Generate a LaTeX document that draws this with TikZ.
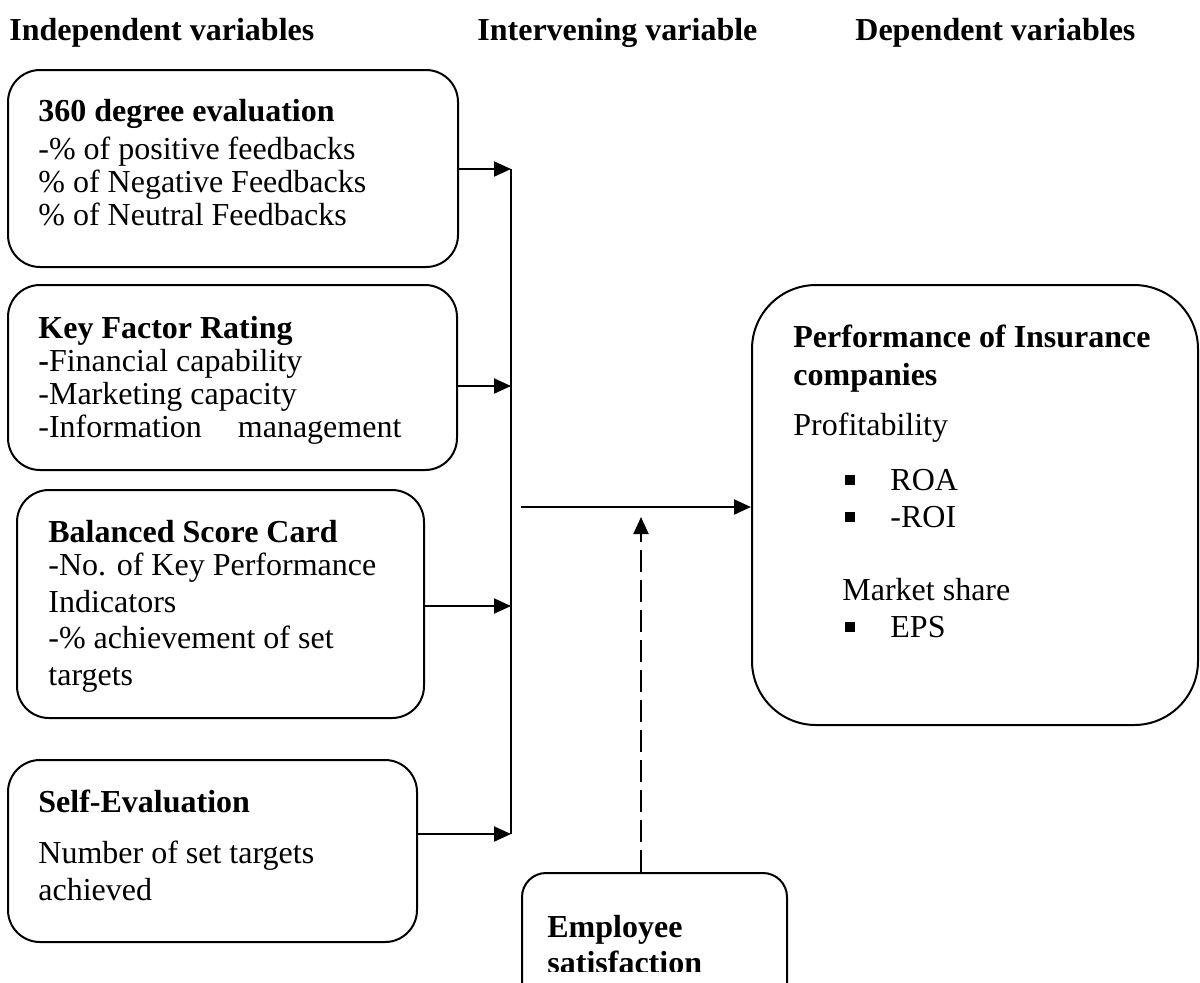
\documentclass[tikz,border=0pt]{standalone}
\usepackage{fontspec}
\setmainfont{Liberation Serif}
\usetikzlibrary{arrows.meta,positioning,calc}
\newcommand{\sqbul}{\rule[2.5pt]{5pt}{5pt}}
\tikzset{
  varbox/.style={draw, line width=1pt, rounded corners=16pt, inner sep=0pt},
  vartext/.style={anchor=base west, align=left, inner sep=0pt,
    font=\fontsize{16}{16.5}\selectfont},
  headtext/.style={anchor=base west, inner sep=0pt,
    font=\fontsize{16}{16.5}\selectfont\bfseries},
  feed/.style={-{Triangle[length=8.5pt,width=7.5pt]}, line width=1pt},
  moderate/.style={feed, dash pattern=on 11pt off 4pt},
}
\begin{document}
\begin{tikzpicture}[x=0.5pt,y=-0.5pt]
  \useasboundingbox (0,0) rectangle (1200,982);
  \clip (0,0) rectangle (1200,982);
  % column heads
  \node[headtext] (hind) at (9,40) {Independent variables};
  \node[headtext] (hint) at (477,40) {Intervening variable};
  \node[headtext] (hdep) at (855,40) {Dependent variables};
  % independent variables (text nodes sit on their last line)
  \node[varbox, minimum width=225pt, minimum height=98.5pt] (b1) at (233,168.5) {};
  \node[vartext] (t1) at (38,225) {\textbf{360 degree evaluation}\\[2.5pt]
    -\% of positive feedbacks\\
    \% of Negative Feedbacks\\
    \% of Neutral Feedbacks};
  \node[varbox, minimum width=224.5pt, minimum height=92.5pt] (b2) at (232.5,377.5) {};
  \node[vartext] (t2) at (38,437) {\textbf{Key Factor Rating}\\
    \textbf{-}Financial capability\\
    -Marketing capacity\\
    -Information\hspace*{18pt}management};
  \node[varbox, minimum width=203.5pt, minimum height=114pt] (b3) at (220.5,604) {};
  \node[vartext] (t3) at (48,685) {\textbf{Balanced Score Card}\\
    -No. of Key Performance\\[2pt]
    Indicators\\[1.5pt]
    -\% achievement of set\\[2pt]
    targets};
  \node[varbox, minimum width=204.5pt, minimum height=91pt] (b4) at (212.5,851) {};
  \node[vartext] (t4) at (38,900) {\textbf{Self-Evaluation}\\[9pt]
    Number of set targets\\[2pt]
    achieved};
  % dependent variable
  \node[varbox, rounded corners=32pt, minimum width=223pt, minimum height=220pt] (b5) at (975,505) {};
  \node[vartext] (t5) at (793,637) {\textbf{Performance of Insurance}\\[2.5pt]
    \textbf{companies}\\[8.5pt]
    Profitability\\[11pt]
    \hspace*{26pt}\sqbul\hspace*{17.5pt}ROA\\[2pt]
    \hspace*{26pt}\sqbul\hspace*{17.5pt}-ROI\\[20pt]
    \hspace*{24.5pt}Market share\\[2pt]
    \hspace*{26pt}\sqbul\hspace*{17.5pt}EPS};
  % intervening variable
  \node[varbox, rounded corners=12pt, minimum width=132.5pt, minimum height=68.5pt] (b6) at (654.5,941.5) {};
  \begin{scope}
    \clip (522,873) rectangle (787,971);
    \node[vartext] (t6) at (547,973) {\textbf{Employee}\\[1.5pt]
      \textbf{satisfaction}};
  \end{scope}
  % collecting bar
  \coordinate (j1) at (511,169);
  \coordinate (j2) at (511,386);
  \coordinate (j3) at (511,606);
  \coordinate (j4) at (511,834);
  \draw[line width=1pt] (j1) -- (j4);
  \foreach \b/\j in {b1/j1,b2/j2,b3/j3,b4/j4} {
    \draw[feed] (\b.east |- \j) -- (\j);
  }
  \coordinate (mid) at (521,507);
  \draw[feed] (mid) -- (mid -| b5.west);
  \coordinate (dtip) at (641,517);
  \draw[moderate] (dtip |- b6.north) -- (dtip);
\end{tikzpicture}
\end{document}
